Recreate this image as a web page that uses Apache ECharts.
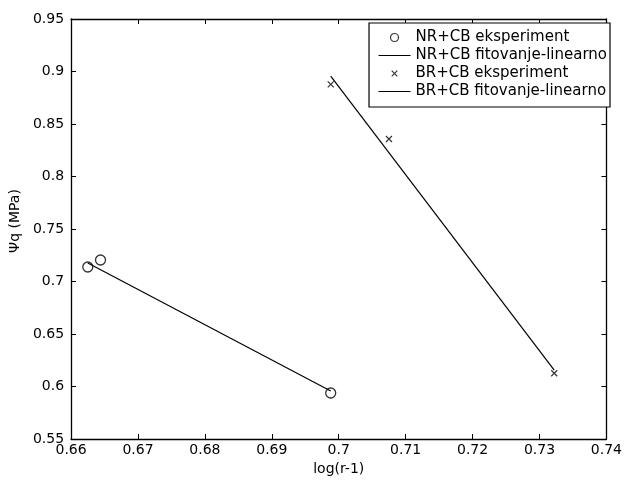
<!DOCTYPE html>
<html>
<head>
<meta charset="utf-8">
<title>Psi q vs log(r-1)</title>
<script src="https://cdn.jsdelivr.net/npm/echarts@6/dist/echarts.min.js"></script>
<style>
    html, body { margin: 0; padding: 0; background: #fff; }
    #psi_chart { width: 625px; height: 481px; }
</style>
</head>
<body>
<div id="psi_chart"></div>
<script>

// Data
// ------------------------------

var seriesNames = ['NR+CB eksperiment', 'NR+CB fitovanje-linearno', 'BR+CB eksperiment', 'BR+CB fitovanje-linearno'];

var nr_x = [0.6625, 0.6644, 0.6988];
var nr_y = [0.7138, 0.7205, 0.5938];
var nr_fit_x = [0.6625, 0.6988];
var nr_fit_y = [0.7176, 0.5958];

var br_x = [0.6988, 0.7075, 0.7322];
var br_y = [0.8878, 0.8357, 0.6126];
var br_fit_x = [0.6988, 0.7322];
var br_fit_y = [0.8955, 0.6155];

var xTicks = { min: 0.66, max: 0.74, interval: 0.01 };
var yTicks = { min: 0.55, max: 0.95, interval: 0.05 };


// Setup module
// ------------------------------

var PsiChart = function() {

    var pairs = function(xs, ys) {
        var out = [];
        for (var i = 0; i < xs.length; i++) {
            out.push([xs[i], ys[i]]);
        }
        return out;
    };

    var _psiChart = function() {
        if (typeof echarts == 'undefined') {
            console.warn('Warning - echarts.min.js is not loaded.');
            return;
        }

        var chart_element = document.getElementById('psi_chart');
        var chart = echarts.init(chart_element, null, { renderer: 'canvas' });

        var font = '"DejaVu Sans", Arial, sans-serif';
        var circlePath = 'path://M0 0M14 14M3 7A4 4 0 1 1 11 7A4 4 0 1 1 3 7';
        var crossPath = 'path://M0 0L10 10M10 0L0 10';
        var crossIcon = 'path://M0 0M14 14M4.2 4.2L9.8 9.8M9.8 4.2L4.2 9.8';
        var lineIcon = 'path://M0 0M32 14M0 7L32 7';
        var strokeOnly = { color: 'none', borderColor: '#000', borderWidth: 1.2 };

        // shared axis pieces (MATLAB box: ticks inside on all four sides)
        var boxAxis = function(pos, t, showLabel) {
            return {
                type: 'value',
                position: pos,
                min: t.min,
                max: t.max,
                interval: t.interval,
                axisLine: { show: true, onZero: false, lineStyle: { color: '#000', width: 1.3 } },
                axisTick: { show: true, inside: true, length: 5, lineStyle: { color: '#000' } },
                axisLabel: { show: showLabel, color: '#000', fontFamily: font, fontSize: 14 },
                splitLine: { show: false }
            };
        };

        var xBottom = boxAxis('bottom', xTicks, true);
        xBottom.axisLabel.margin = 4;
        xBottom.name = 'log(r-1)';
        xBottom.nameLocation = 'middle';
        xBottom.nameGap = 19;
        xBottom.nameTextStyle = { color: '#000', fontFamily: font, fontSize: 14 };

        var yLeft = boxAxis('left', yTicks, true);
        yLeft.axisLabel.margin = 7;
        yLeft.name = '\u03A8q (MPa)';
        yLeft.nameLocation = 'middle';
        yLeft.nameGap = 47;
        yLeft.nameTextStyle = { color: '#000', fontFamily: font, fontSize: 14, padding: [0, 0, 0, 16] };

        chart.setOption({
            animation: false,
            backgroundColor: '#fff',

            grid: {
                left: 70,
                right: 15,
                top: 19,
                bottom: 42
            },

            legend: {
                orient: 'vertical',
                right: 15,
                top: 23,
                padding: [5, 3, 6, 7],
                itemWidth: 32,
                itemHeight: 14,
                itemGap: -1,
                backgroundColor: '#fff',
                borderColor: '#000',
                borderWidth: 1.2,
                textStyle: { color: '#000', fontFamily: font, fontSize: 15, lineHeight: 14 },
                data: [
                    { name: seriesNames[0], icon: circlePath, itemStyle: strokeOnly },
                    { name: seriesNames[1], icon: lineIcon, itemStyle: strokeOnly },
                    { name: seriesNames[2], icon: crossIcon, itemStyle: strokeOnly },
                    { name: seriesNames[3], icon: lineIcon, itemStyle: strokeOnly }
                ]
            },

            xAxis: [xBottom, boxAxis('top', xTicks, false)],
            yAxis: [yLeft, boxAxis('right', yTicks, false)],

            series: [
                {
                    name: seriesNames[0],
                    type: 'scatter',
                    data: pairs(nr_x, nr_y),
                    symbol: 'circle',
                    symbolSize: 10,
                    z: 3,
                    itemStyle: { color: 'none', borderColor: '#000', borderWidth: 1.3 }
                },
                {
                    name: seriesNames[1],
                    type: 'line',
                    data: pairs(nr_fit_x, nr_fit_y),
                    symbol: 'none',
                    lineStyle: { color: '#000', width: 1.2 },
                    itemStyle: { color: '#000' }
                },
                {
                    name: seriesNames[2],
                    type: 'scatter',
                    data: pairs(br_x, br_y),
                    symbol: crossPath,
                    symbolSize: 6,
                    z: 3,
                    itemStyle: { color: 'none', borderColor: '#000', borderWidth: 1.2 }
                },
                {
                    name: seriesNames[3],
                    type: 'line',
                    data: pairs(br_fit_x, br_fit_y),
                    symbol: 'none',
                    lineStyle: { color: '#000', width: 1.2 },
                    itemStyle: { color: '#000' }
                }
            ]
        });
    };

    return {
        init: function() {
            _psiChart();
        }
    };
}();


// Initialize module
// ------------------------------

PsiChart.init();
</script>
</body>
</html>
